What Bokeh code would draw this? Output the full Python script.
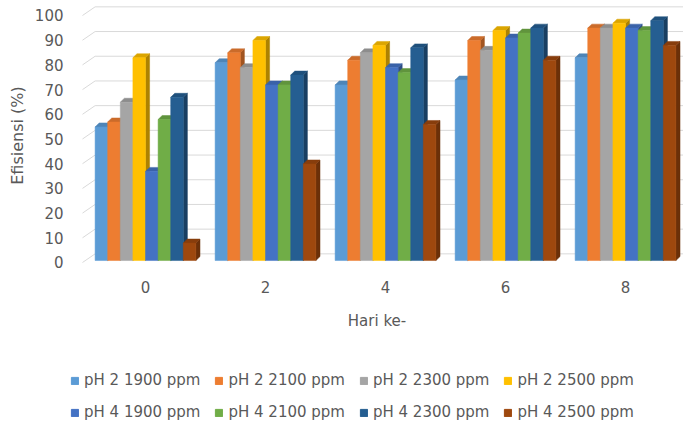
from bokeh.plotting import figure
from bokeh.layouts import column
from bokeh.models import Range1d, FixedTicker, Legend, LegendItem
from bokeh.embed import file_html
from bokeh.resources import INLINE

# Efisiensi (%) per hari, eight pH / concentration series
hari = ["0", "2", "4", "6", "8"]
series_names = [
    "pH 2 1900 ppm", "pH 2 2100 ppm", "pH 2 2300 ppm", "pH 2 2500 ppm",
    "pH 4 1900 ppm", "pH 4 2100 ppm", "pH 4 2300 ppm", "pH 4 2500 ppm",
]
ph2_1900 = [53, 79, 70, 72, 81]
ph2_2100 = [55, 83, 80, 88, 93]
ph2_2300 = [63, 77, 83, 84, 93]
ph2_2500 = [81, 88, 86, 92, 95]
ph4_1900 = [35, 70, 77, 89, 93]
ph4_2100 = [56, 70, 75, 91, 92]
ph4_2300 = [65, 74, 85, 93, 96]
ph4_2500 = [6, 38, 54, 80, 86]
series_values = [ph2_1900, ph2_2100, ph2_2300, ph2_2500,
                 ph4_1900, ph4_2100, ph4_2300, ph4_2500]
colors = ["#5B9BD5", "#ED7D31", "#A5A5A5", "#FFC000",
          "#4472C4", "#70AD47", "#255E91", "#9E480E"]
y_ticks = list(range(0, 101, 10))

TEXT = "#595959"
FONT = "DejaVu Sans"
LEFT = 70  # left border of both panels, in px

# pseudo-3D geometry (data units)
BAR_W = 0.105        # width of one bar's front face
DX, DY = 0.034, 1.6  # depth offset of top / side faces
WALL_DX, WALL_DY = 0.105, 3.5  # back-wall offset of the gridlines
FLOOR = 0.8

X0, X1 = -0.625, 4.483
GRID_X0 = -0.525
Y0, Y1 = -1.62, 104.45


def shade(hex_color, f):
    h = hex_color.lstrip("#")
    r, g, b = (int(h[i:i + 2], 16) for i in (0, 2, 4))
    return "#%02x%02x%02x" % (int(r * f), int(g * f), int(b * f))


p = figure(width=683, height=345, output_backend="svg", toolbar_location=None,
           x_range=Range1d(X0, X1), y_range=Range1d(Y0, Y1),
           min_border_left=LEFT, min_border_right=0, min_border_top=4,
           min_border_bottom=79)
p.outline_line_color = None
p.xgrid.visible = False
p.ygrid.visible = False

# back-wall gridlines with a short slanted side-wall segment
p.multi_line(xs=[[GRID_X0, GRID_X0 + WALL_DX, X1] for _ in y_ticks],
             ys=[[g, g + WALL_DY, g + WALL_DY] for g in y_ticks],
             line_color="#d9d9d9", line_width=1)

for s, (vals, col) in enumerate(zip(series_values, colors)):
    lefts = [i - 4 * BAR_W + s * BAR_W for i in range(len(hari))]
    rights = [l + BAR_W for l in lefts]
    tops = [v + WALL_DY - DY for v in vals]
    side_xs = [[r, r + DX, r + DX, r] for r in rights]
    side_ys = [[FLOOR, FLOOR + DY, t + DY, t] for t in tops]
    top_xs = [[l, l + DX, r + DX, r] for l, r in zip(lefts, rights)]
    top_ys = [[t, t + DY, t + DY, t] for t in tops]
    p.patches(xs=side_xs, ys=side_ys, fill_color=shade(col, 0.68),
              line_color=shade(col, 0.68), line_width=0.5)
    p.patches(xs=top_xs, ys=top_ys, fill_color=shade(col, 0.86),
              line_color=shade(col, 0.86), line_width=0.5)
    p.quad(left=lefts, right=rights, bottom=FLOOR, top=tops,
           fill_color=col, line_color=col, line_width=0.5)

# axes
p.yaxis.ticker = FixedTicker(ticks=y_ticks)
p.yaxis.axis_label = "Efisiensi (%)"
p.xaxis.ticker = FixedTicker(ticks=list(range(len(hari))))
p.xaxis.major_label_overrides = {i: h for i, h in enumerate(hari)}
p.xaxis.axis_label = "Hari ke-"
for ax in (p.xaxis[0], p.yaxis[0]):
    ax.axis_line_color = None
    ax.major_tick_line_color = None
    ax.minor_tick_line_color = None
    ax.major_tick_out = 0
    ax.major_label_text_color = TEXT
    ax.major_label_text_font = FONT
    ax.major_label_text_font_size = "15px"
    ax.axis_label_text_color = TEXT
    ax.axis_label_text_font = FONT
    ax.axis_label_text_font_style = "normal"
p.yaxis.major_label_standoff = 7
p.yaxis.axis_label_standoff = 5
p.yaxis.axis_label_text_font_size = "16px"
p.xaxis.major_label_standoff = 14
p.xaxis.axis_label_standoff = 16
p.xaxis.axis_label_text_font_size = "15px"

# legend strip: two rows of four series swatches
lf = figure(width=683, height=81, output_backend="svg", toolbar_location=None,
            x_axis_location=None, y_axis_location=None,
            min_border_left=LEFT, min_border_right=0, min_border_top=0,
            min_border_bottom=0, x_range=Range1d(0, 1), y_range=Range1d(0, 1))
lf.outline_line_color = None
lf.xgrid.visible = False
lf.ygrid.visible = False
# swatch renderers sit outside the visible range; only their legend glyphs show
swatches = [lf.quad(left=[5], right=[6], bottom=[5], top=[6],
                    fill_color=col, line_color=col) for col in colors]
items = [LegendItem(label=name, renderers=[r])
         for name, r in zip(series_names, swatches)]
for row, vy in ((items[:4], 37), (items[4:], 5)):
    lg = Legend(items=row, orientation="horizontal", location=(0, vy),
                border_line_color=None, background_fill_alpha=0,
                padding=0, margin=0, spacing=14, label_standoff=5,
                glyph_width=9, glyph_height=9, label_height=18,
                label_text_font=FONT, label_text_font_size="15px",
                label_text_color=TEXT)
    lf.add_layout(lg, "center")

open("out.html", "w").write(file_html(column(p, lf, spacing=0), INLINE))
